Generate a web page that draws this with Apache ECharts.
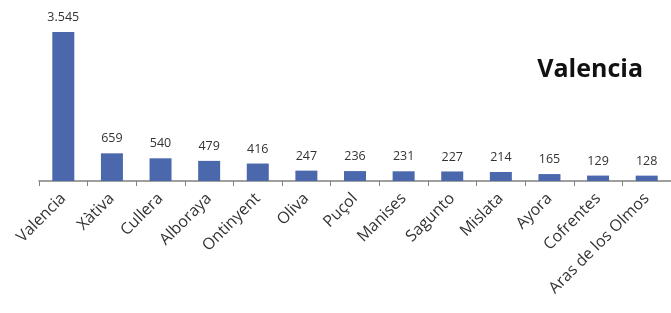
<!DOCTYPE html>
<html><head><meta charset="utf-8">
<script src="https://cdn.jsdelivr.net/npm/echarts@6/dist/echarts.min.js"></script>
<style>html,body{margin:0;padding:0;background:#fff}#c{width:671px;height:313px}</style>
</head><body><div id="c"></div>
<script>
const categories = ['Valencia','Xàtiva','Cullera','Alboraya','Ontinyent','Oliva','Puçol','Manises','Sagunto','Mislata','Ayora','Cofrentes','Aras de los Olmos'];
const values = [3545,659,540,479,416,247,236,231,227,214,165,129,128];
const titleText = 'Valencia';

const chart = echarts.init(document.getElementById('c'));
chart.setOption({
  animation:false,
  title:{text:titleText, right:23, top:52, textStyle:{fontFamily:'Open Sans', fontWeight:'bold', fontSize:25, color:'#111'}},
  grid:{left:39, width:640, top:13, height:168},
  xAxis:{type:'category', data:categories, boundaryGap:true,
    axisLine:{lineStyle:{color:'#808080', width:1.5}},
    axisTick:{show:true, length:5, lineStyle:{color:'#808080'}},
    axisLabel:{rotate:45, interval:0, fontFamily:'Open Sans', fontSize:16, color:'#333', margin:15}},
  yAxis:{type:'value', min:0, max:4000, show:false, splitLine:{show:false}},
  series:[{type:'bar', data:values, barWidth:22, itemStyle:{color:'#4b68ac'},
    label:{show:true, position:'top', distance:8, fontFamily:'Open Sans', fontSize:12.5, color:'#333',
      formatter:p=>p.value.toString().replace(/\B(?=(\d{3})+(?!\d))/g,'.')}}]
});
</script></body></html>
